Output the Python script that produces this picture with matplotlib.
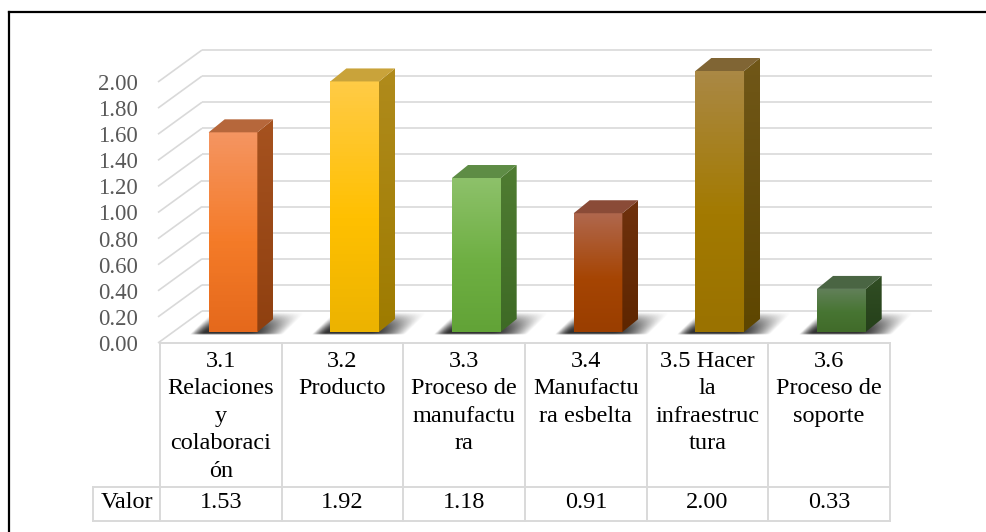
import numpy as np
import matplotlib.pyplot as plt
from matplotlib.patches import Polygon, Rectangle
from matplotlib.colors import to_rgb
from matplotlib.transforms import blended_transform_factory

plt.rcParams['font.family'] = ['Liberation Serif', 'DejaVu Serif']

# Data
labels = ["3.1\nRelaciones\ny\ncolaboraci\nón", "3.2\nProducto",
          "3.3\nProceso de\nmanufactu\nra", "3.4\nManufactu\nra esbelta",
          "3.5 Hacer\nla\ninfraestruc\ntura", "3.6\nProceso de\nsoporte"]
values = [1.53, 1.92, 1.18, 0.91, 2.00, 0.33]
yticks = [0.0, 0.2, 0.4, 0.6, 0.8, 1.0, 1.2, 1.4, 1.6, 1.8, 2.0]
row_name = "Valor"

# bar colours: front (top, middle, bottom), side (top, bottom), lid
front_cols = [("#F49561", "#F47B28", "#E5691C"),
              ("#FFCB45", "#FFC000", "#ECB300"),
              ("#8DC16A", "#6EAF42", "#62A337"),
              ("#B0674D", "#A64503", "#9A3E00"),
              ("#AA8844", "#A37A00", "#9A7200"),
              ("#62805A", "#477532", "#416B2A")]
side_cols = [("#A6521F", "#8F4010"), ("#B08B1C", "#9E7B00"),
             ("#4F7C32", "#3E6A25"), ("#6F310D", "#5E2600"),
             ("#705718", "#5E4600"), ("#314E24", "#25401A")]
top_cols = ["#B6673B", "#C9A33A", "#5E8C45", "#8A4B37", "#806534", "#4A6543"]

W, H = 987, 532
PXX = 121.67   # pixels per category
PXY = 130.5    # pixels per value unit
X0, Y0 = 160, 343
XMAX, YMAX = 5.9, 2.35

fig = plt.figure(figsize=(W / 100, H / 100), dpi=100)
ax = fig.add_axes([X0 / W, (H - Y0) / H, (XMAX + 0.5) * PXX / W, YMAX * PXY / H])
ax.set_xlim(-0.5, XMAX)
ax.set_ylim(0, YMAX)
for s in ax.spines.values():
    s.set_visible(False)
ax.set_xticks([])
ax.set_yticks(yticks)
ax.set_yticklabels([f"{t:.2f}" for t in yticks])
ax.tick_params(axis='y', length=0, pad=16, labelsize=16.5, labelcolor="#595959")

# side and back walls: gridlines only
DXW, DYW = 42 / PXX, 32 / PXY
XBACK_END = (932 - X0) / PXX - 0.5
grid_c = "#d9d9d9"
for t in yticks:
    ax.plot([-0.5 - 2 / PXX, -0.5 + DXW], [t, t + DYW], color=grid_c, lw=1.2,
            clip_on=False, zorder=1, solid_capstyle='butt')
    ax.plot([-0.5 + DXW, XBACK_END], [t + DYW, t + DYW], color=grid_c, lw=1.2,
            clip_on=False, zorder=1, solid_capstyle='butt')

# bars
OFFX, OFFY = 0.10, 11 / PXY
BW = 0.40
DX, DY = 16 / PXX, 13 / PXY


def vgrad(stops, pos, n=64):
    t = np.linspace(0, 1, n)
    rgb = np.array([to_rgb(c) for c in stops])
    out = np.stack([np.interp(t, pos, rgb[:, k]) for k in range(3)], axis=-1)
    return out[:, None, :]


def smooth(x):
    x = np.clip(x, 0, 1)
    return x * x * (3 - 2 * x)


for i, v in enumerate(values):
    xl = i + OFFX - BW / 2
    xr = xl + BW
    yb, yt = OFFY, OFFY + v

    # soft floor shadow, skewed towards the back right
    sx0, sx1 = xl - 0.16, xr + 0.40
    sy0, sy1 = yb - 0.02, yb + 0.15
    nx, ny = 160, 50
    U, V = np.meshgrid(np.linspace(0, 1, nx), np.linspace(0, 1, ny))
    uu = U - 0.2 * V
    alpha = (smooth(uu / 0.12) * smooth((0.8 - uu) / 0.32)
             * smooth(V / 0.08) * smooth((1 - V) / 0.9)) ** 0.5
    img = np.zeros((ny, nx, 4))
    img[..., :3] = 0.15
    img[..., 3] = 0.95 * alpha
    ax.imshow(img, extent=[sx0, sx1, sy0, sy1], origin='lower', aspect='auto',
              interpolation='bilinear', zorder=2, clip_on=False)

    # front face with vertical gradient
    front = Rectangle((xl, yb), BW, v, facecolor='none', edgecolor='none', zorder=3)
    ax.add_patch(front)
    fg = ax.imshow(vgrad(front_cols[i], [0, 0.55, 1])[::-1], extent=[xl, xr, yb, yt],
                   origin='lower', aspect='auto', zorder=3)
    fg.set_clip_path(front)

    # side face
    side = Polygon([(xr, yb), (xr + DX, yb + DY), (xr + DX, yt + DY), (xr, yt)],
                   closed=True, facecolor='none', edgecolor='none', zorder=3)
    ax.add_patch(side)
    sg = ax.imshow(vgrad(side_cols[i], [0, 1])[::-1], extent=[xr, xr + DX, yb, yt + DY],
                   origin='lower', aspect='auto', zorder=3)
    sg.set_clip_path(side)

    # lid
    ax.add_patch(Polygon([(xl, yt), (xl + DX, yt + DY), (xr + DX, yt + DY), (xr, yt)],
                         closed=True, facecolor=top_cols[i], edgecolor='none', zorder=4))

ax.set_xlim(-0.5, XMAX)
ax.set_ylim(0, YMAX)

# data table below the plot
tr = blended_transform_factory(ax.transData, fig.transFigure)


def fy(p):
    return 1 - p / H


tbl_c = "#d9d9d9"
lw_t = 1.4
top_y, mid_y, bot_y = 343, 487, 521
n = len(values)
xleft_valor = (93 - X0) / PXX - 0.5
fig.add_artist(plt.Line2D([-0.5, n - 0.5], [fy(top_y)] * 2, transform=tr, color=tbl_c, lw=lw_t))
fig.add_artist(plt.Line2D([xleft_valor, n - 0.5], [fy(mid_y)] * 2, transform=tr, color=tbl_c, lw=lw_t))
fig.add_artist(plt.Line2D([xleft_valor, n - 0.5], [fy(bot_y)] * 2, transform=tr, color=tbl_c, lw=lw_t))
fig.add_artist(plt.Line2D([xleft_valor] * 2, [fy(mid_y), fy(bot_y)], transform=tr, color=tbl_c, lw=lw_t))
for k in range(n + 1):
    fig.add_artist(plt.Line2D([k - 0.5] * 2, [fy(top_y), fy(bot_y)], transform=tr,
                              color=tbl_c, lw=lw_t))

for i, (lab, v) in enumerate(zip(labels, values)):
    fig.text(i, fy(351), lab, transform=tr, ha='center', va='top', fontsize=17.5,
             linespacing=1.4, color='black')
    fig.text(i, fy(503), f"{v:.2f}", transform=tr, ha='center', va='center',
             fontsize=17.5, color='black')
fig.text((xleft_valor - 0.5) / 2, fy(503), row_name, transform=tr, ha='center',
         va='center', fontsize=17.5, color='black')

# outer frame (runs off the right and bottom edges)
fig.add_artist(plt.Line2D([9 / W, 9 / W], [0, fy(12)], transform=fig.transFigure,
                          color='black', lw=1.6))
fig.add_artist(plt.Line2D([9 / W, 1], [fy(12), fy(12)], transform=fig.transFigure,
                          color='black', lw=1.6))

fig.savefig("out.png", dpi=100)
